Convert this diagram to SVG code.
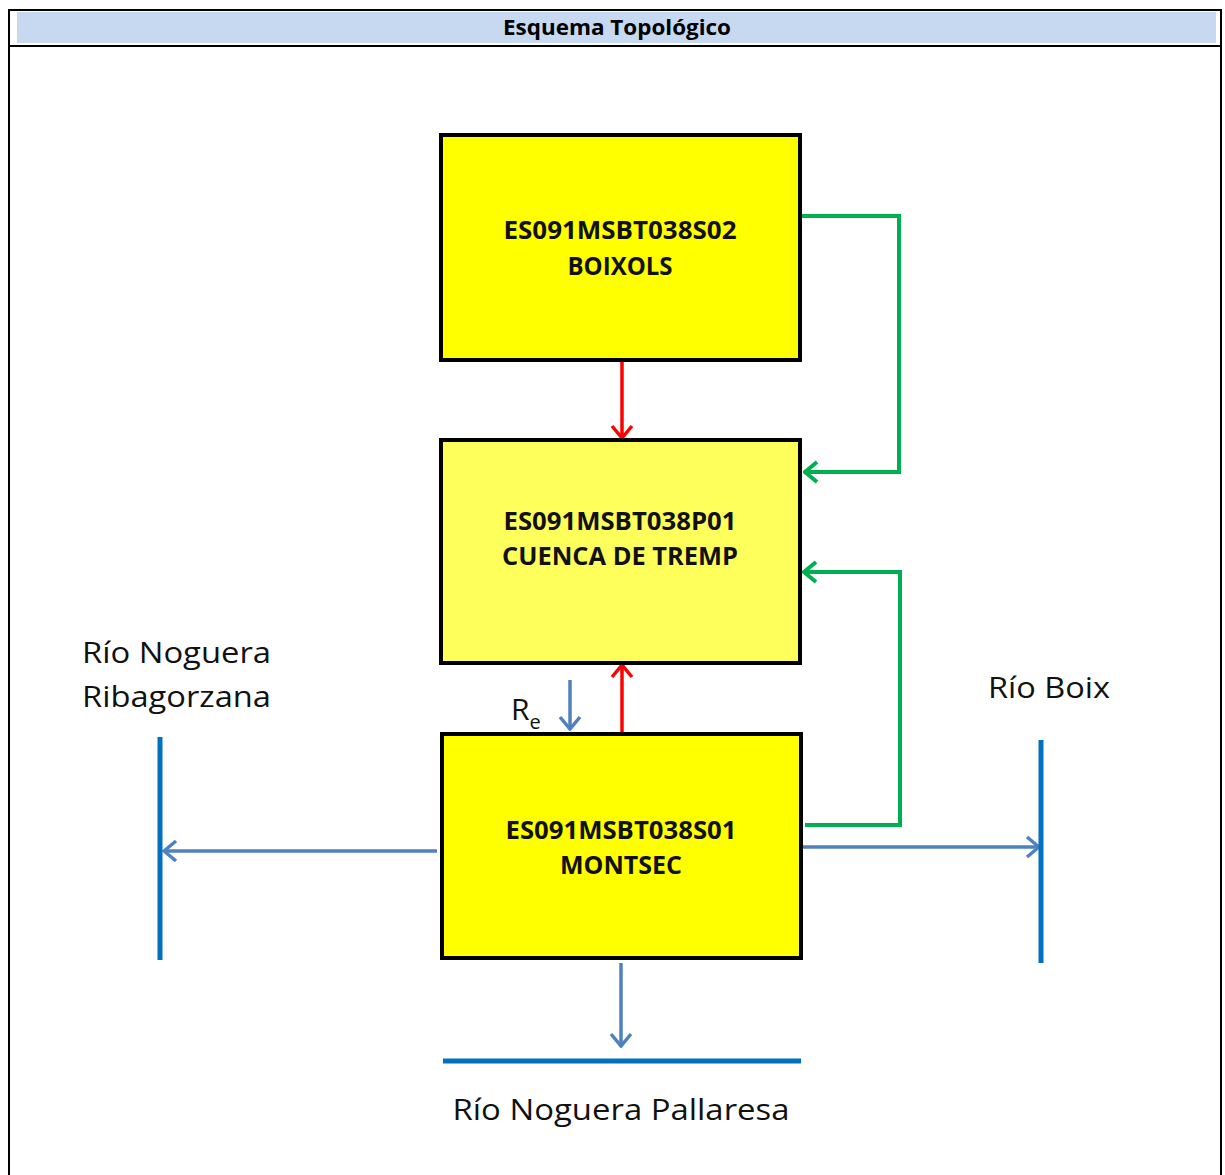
<svg xmlns="http://www.w3.org/2000/svg" width="1225" height="1175" viewBox="0 0 1225 1175">
  <style>
    .hdr { font-family: "Open Sans", "Liberation Sans", sans-serif; font-weight: bold; font-size: 21px; fill: #000; }
    .box { stroke: #000; stroke-width: 4; }
    .lbl { font-family: "Open Sans", "Liberation Sans", sans-serif; font-weight: bold; font-size: 25.5px; fill: #111; }
    .riv { font-family: "Open Sans", "Liberation Sans", sans-serif; font-size: 30px; fill: #111; }
    .red { stroke: #FF0000; stroke-width: 3.5; fill: none; }
    .grn { stroke: #00B050; stroke-width: 4; fill: none; }
    .blu { stroke: #4F81BD; stroke-width: 3.5; fill: none; }
    .river { stroke: #0070C0; stroke-width: 5; fill: none; }
  </style>
  <defs>
    <marker id="ahRed" markerUnits="userSpaceOnUse" viewBox="0 0 16 24" refX="14" refY="12" markerWidth="16" markerHeight="24" orient="auto">
      <path d="M2,2 L14,12 L2,22" fill="none" stroke="#FF0000" stroke-width="3.5"/>
    </marker>
    <marker id="ahGrn" markerUnits="userSpaceOnUse" viewBox="0 0 16 24" refX="14" refY="12" markerWidth="16" markerHeight="24" orient="auto">
      <path d="M2,2 L14,12 L2,22" fill="none" stroke="#00B050" stroke-width="4"/>
    </marker>
    <marker id="ahBlu" markerUnits="userSpaceOnUse" viewBox="0 0 16 24" refX="14" refY="12" markerWidth="16" markerHeight="24" orient="auto">
      <path d="M2,2 L14,12 L2,22" fill="none" stroke="#4F81BD" stroke-width="3.5"/>
    </marker>
  </defs>

  <rect width="1225" height="1175" fill="#FFFFFF"/>

  <!-- table frame with title row -->
  <g id="frame">
    <rect x="9" y="10" width="1212" height="1170" fill="none" stroke="#000" stroke-width="2"/>
    <rect x="17" y="12" width="1199" height="31" fill="#C6D9F0"/>
    <line x1="9" y1="46" x2="1221" y2="46" stroke="#000" stroke-width="2"/>
    <text class="hdr" x="617" y="35" text-anchor="middle" textLength="228" lengthAdjust="spacingAndGlyphs">Esquema Topológico</text>
  </g>

  <!-- connectors -->
  <g id="connectors">
    <line class="red" x1="622" y1="360" x2="622" y2="438" marker-end="url(#ahRed)"/>
    <line class="red" x1="622" y1="733" x2="622" y2="665" marker-end="url(#ahRed)"/>
    <polyline class="grn" points="800,216 899,216 899,472 805,472" marker-end="url(#ahGrn)"/>
    <polyline class="grn" points="805,825 900,825 900,572 804,572" marker-end="url(#ahGrn)"/>
    <line class="blu" x1="570" y1="680" x2="570" y2="729" marker-end="url(#ahBlu)"/>
    <line class="blu" x1="437" y1="851" x2="164" y2="851" marker-end="url(#ahBlu)"/>
    <line class="blu" x1="801" y1="847" x2="1039" y2="847" marker-end="url(#ahBlu)"/>
    <line class="blu" x1="621" y1="963" x2="621" y2="1046" marker-end="url(#ahBlu)"/>
  </g>

  <!-- receiving rivers -->
  <g id="rio-ribagorzana">
    <line class="river" x1="160" y1="737" x2="160" y2="960"/>
    <text class="riv" x="82" y="663" textLength="189" lengthAdjust="spacingAndGlyphs">Río Noguera</text>
    <text class="riv" x="82" y="707" textLength="189" lengthAdjust="spacingAndGlyphs">Ribagorzana</text>
  </g>
  <g id="rio-boix">
    <line class="river" x1="1041" y1="740" x2="1041" y2="963"/>
    <text class="riv" x="988" y="698" textLength="122" lengthAdjust="spacingAndGlyphs">Río Boix</text>
  </g>
  <g id="rio-pallaresa">
    <line class="river" x1="443" y1="1061" x2="801" y2="1061" stroke-width="6"/>
    <text class="riv" x="621" y="1120" text-anchor="middle" textLength="337" lengthAdjust="spacingAndGlyphs">Río Noguera Pallaresa</text>
  </g>

  <!-- recharge label -->
  <g id="recarga">
    <text class="riv" x="511" y="720" font-size="30">R<tspan font-size="20" dy="9">e</tspan></text>
  </g>

  <!-- water bodies -->
  <g id="boixols">
    <rect class="box" x="441" y="135" width="359" height="225" fill="#FFFF00"/>
    <text class="lbl" x="620" y="239" text-anchor="middle" textLength="233" lengthAdjust="spacingAndGlyphs">ES091MSBT038S02</text>
    <text class="lbl" x="620" y="275" text-anchor="middle" textLength="105" lengthAdjust="spacingAndGlyphs">BOIXOLS</text>
  </g>
  <g id="cuenca-tremp">
    <rect class="box" x="441" y="440" width="359" height="223" fill="#FFFF5C"/>
    <text class="lbl" x="620" y="530" text-anchor="middle" textLength="233" lengthAdjust="spacingAndGlyphs">ES091MSBT038P01</text>
    <text class="lbl" x="620" y="565" text-anchor="middle" textLength="236" lengthAdjust="spacingAndGlyphs">CUENCA DE TREMP</text>
  </g>
  <g id="montsec">
    <rect class="box" x="442" y="734" width="359" height="224" fill="#FFFF00"/>
    <text class="lbl" x="621" y="839" text-anchor="middle" textLength="231" lengthAdjust="spacingAndGlyphs">ES091MSBT038S01</text>
    <text class="lbl" x="621" y="874" text-anchor="middle" textLength="122" lengthAdjust="spacingAndGlyphs">MONTSEC</text>
  </g>
</svg>
